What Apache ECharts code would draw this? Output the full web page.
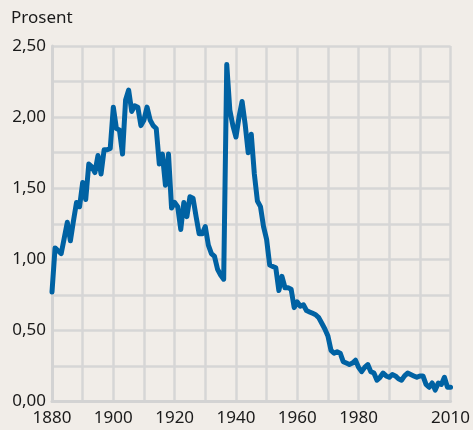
<!DOCTYPE html>
<html>
<head>
<meta charset="utf-8">
<script src="https://cdn.jsdelivr.net/npm/echarts@6/dist/echarts.min.js"></script>
<style>
html,body{margin:0;padding:0;background:#f1ede8;}
#c{width:473px;height:430px;}
</style>
</head>
<body>
<div id="c"></div>
<script>
const years = [];
for (let y = 1880; y <= 2010; y++) years.push(y);
const values = [
0.77,1.08,1.06,1.04,1.15,1.26,1.13,1.27,1.40,1.37,
1.54,1.42,1.67,1.65,1.61,1.73,1.60,1.77,1.77,1.78,
2.07,1.92,1.91,1.74,2.12,2.19,2.04,2.08,2.07,1.94,
1.98,2.07,1.98,1.94,1.92,1.67,1.74,1.52,1.74,1.36,
1.40,1.37,1.21,1.40,1.30,1.44,1.43,1.30,1.18,1.18,
1.23,1.10,1.04,1.02,0.93,0.89,0.86,2.37,2.05,1.94,
1.86,2.00,2.11,1.95,1.75,1.88,1.60,1.41,1.37,1.23,
1.14,0.96,0.95,0.94,0.78,0.88,0.80,0.80,0.79,0.66,
0.70,0.67,0.68,0.64,0.63,0.62,0.61,0.59,0.55,0.51,
0.46,0.36,0.34,0.35,0.34,0.28,0.27,0.26,0.27,0.29,
0.24,0.21,0.24,0.26,0.21,0.20,0.15,0.17,0.20,0.18,
0.17,0.19,0.18,0.16,0.15,0.18,0.20,0.19,0.18,0.17,
0.18,0.18,0.12,0.10,0.13,0.08,0.13,0.12,0.17,0.10,
0.10
];
const xLabels = [1880, 1900, 1920, 1940, 1960, 1980, 2010];
const yLabels = [0, 0.5, 1, 1.5, 2, 2.5];
const unitLabel = 'Prosent';

const chart = echarts.init(document.getElementById('c'), null, {renderer: 'canvas'});
const FONT = 'Noto Sans';
chart.setOption({
  backgroundColor: '#f1ede8',
  animation: false,
  title: {
    text: unitLabel, left: 11, top: 10, padding: 0,
    textStyle: {fontFamily: FONT, fontSize: 17, fontWeight: 'normal', color: '#1a1a1a'}
  },
  grid: {left: 52, right: 20, top: 46, bottom: 28.5, containLabel: false},
  xAxis: {
    type: 'value', min: 1880, max: 2010, interval: 10,
    axisLine: {show: true, lineStyle: {color: '#d3d3d3', width: 3}},
    axisTick: {show: false},
    splitLine: {show: true, lineStyle: {color: '#d6d6d6', width: 2.5}},
    axisLabel: {
      margin: 8, fontFamily: FONT, fontSize: 17, color: '#1a1a1a',
      showMinLabel: true, showMaxLabel: true,
      formatter: v => xLabels.indexOf(v) >= 0 ? String(v) : ''
    }
  },
  yAxis: {
    type: 'value', min: 0, max: 2.5, interval: 0.25,
    axisLine: {show: true, lineStyle: {color: '#d3d3d3', width: 3}},
    axisTick: {show: false},
    splitLine: {show: true, lineStyle: {color: '#d6d6d6', width: 2.5}},
    axisLabel: {
      margin: 6, fontFamily: FONT, fontSize: 17, color: '#1a1a1a',
      formatter: v => {
        const r = Math.round(v * 100) / 100;
        return yLabels.some(l => Math.abs(l - r) < 1e-6) ? r.toFixed(2).replace('.', ',') : '';
      }
    }
  },
  series: [{
    type: 'line',
    data: years.map((y, i) => [y, values[i]]),
    showSymbol: false,
    lineStyle: {color: '#0062a3', width: 5, join: 'round', cap: 'round'},
    itemStyle: {color: '#0062a3'}
  }]
});
</script>
</body>
</html>
